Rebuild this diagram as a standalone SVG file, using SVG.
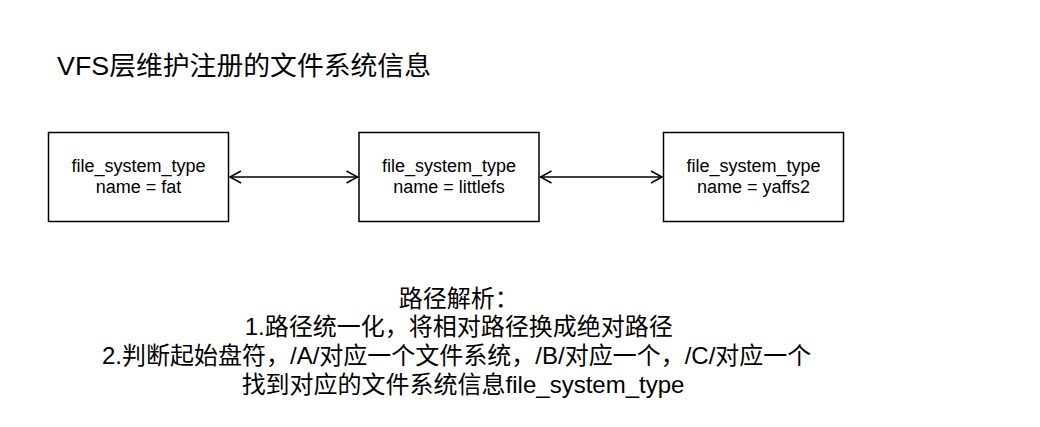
<svg xmlns="http://www.w3.org/2000/svg" width="1040" height="427" viewBox="0 0 1040 427">
<style>
.box{fill:#ffffff;stroke:#000000;stroke-width:1.5}
.lbl{font-family:"Liberation Sans","Noto Sans CJK SC",sans-serif;font-size:18px;fill:#000000;text-anchor:middle}
.edge{fill:none;stroke:#000000;stroke-width:1.5}
.big{font-family:"Liberation Sans","Noto Sans CJK SC",sans-serif;font-size:24px;fill:#000000}
.ttl{font-family:"Liberation Sans","Noto Sans CJK SC",sans-serif;font-size:26px;fill:#000000}
</style>
<defs>
<marker id="open" markerUnits="userSpaceOnUse" markerWidth="14" markerHeight="16" refX="12" refY="7" orient="auto-start-reverse" viewBox="0 0 14 14">
<path d="M1,1 L12,7 L1,13" fill="none" stroke="#000000" stroke-width="1.5"/>
</marker>
</defs>
<rect width="1040" height="427" fill="#ffffff"/>
<g id="title">
<text x="57" y="75" class="ttl" textLength="374" lengthAdjust="spacingAndGlyphs">VFS层维护注册的文件系统信息</text>
</g>
<g id="node-fat">
<rect class="box" x="48.5" y="132.5" width="180" height="89"/>
<text class="lbl" x="138.5" y="171.5">file_system_type</text>
<text class="lbl" x="138.5" y="193">name = fat</text>
</g>
<g id="node-littlefs">
<rect class="box" x="359" y="132.5" width="180" height="89"/>
<text class="lbl" x="449" y="171.5">file_system_type</text>
<text class="lbl" x="449" y="193">name = littlefs</text>
</g>
<g id="node-yaffs2">
<rect class="box" x="663.5" y="132.5" width="180" height="89"/>
<text class="lbl" x="753.5" y="171.5">file_system_type</text>
<text class="lbl" x="753.5" y="193">name = yaffs2</text>
</g>
<g id="connectors">
<line class="edge" x1="230" y1="177" x2="357.5" y2="177" marker-start="url(#open)" marker-end="url(#open)"/>
<line class="edge" x1="540.5" y1="177" x2="662" y2="177" marker-start="url(#open)" marker-end="url(#open)"/>
</g>
<g id="note">
<text class="big" text-anchor="middle">
<tspan x="462" y="306.5">路径解析：</tspan>
<tspan x="462" y="335.3">1.路径统一化，将相对路径换成绝对路径</tspan>
<tspan x="460" y="364">2.判断起始盘符，/A/对应一个文件系统，/B/对应一个，/C/对应一个</tspan>
<tspan x="463" y="392.8">找到对应的文件系统信息file_system_type</tspan>
</text>
</g>
</svg>
